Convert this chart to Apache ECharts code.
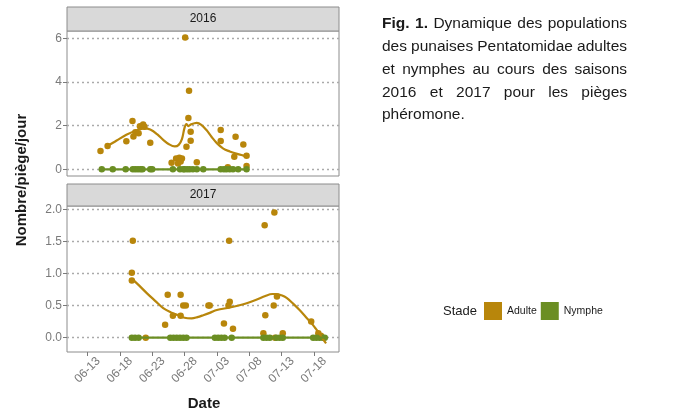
<!DOCTYPE html>
<html>
<head>
<meta charset="utf-8">
<script src="https://cdn.jsdelivr.net/npm/echarts@6/dist/echarts.min.js"></script>
<style>
  html, body { margin: 0; padding: 0; background: #fff; }
  #chart { width: 680px; height: 415px; }
</style>
</head>
<body>
<div id="chart"></div>
<script>
// x values are days after 13 June; y is Nombre/piège/jour
var tickLabels = ['06-13', '06-18', '06-23', '06-28', '07-03', '07-08', '07-13', '07-18'];
var yTicks2016 = [0, 2, 4, 6];
var yTicks2017 = [0, 0.5, 1, 1.5, 2];

var adulte2016 = [
  [2.0, 0.84], [3.1, 1.07], [6.0, 1.29], [6.95, 2.21], [7.1, 1.5], [7.4, 1.7], [7.9, 1.65],
  [8.1, 1.97], [8.6, 2.05], [8.8, 1.95], [9.7, 1.22],
  [13.0, 0.3], [13.7, 0.5], [14.0, 0.27], [14.2, 0.53], [14.6, 0.5], [14.4, 0.36],
  [15.1, 6.04], [15.7, 3.6], [15.6, 2.35], [15.95, 1.72], [15.95, 1.31], [15.3, 1.03], [16.9, 0.32],
  [20.6, 1.8], [20.6, 1.3], [22.9, 1.49], [22.7, 0.58], [24.1, 1.14], [24.6, 0.62], [21.7, 0.09], [24.6, 0.15]
];
var nymphe2016 = [
  [2.2, 0], [3.9, 0], [5.9, 0], [7.0, 0], [7.4, 0], [7.8, 0], [8.2, 0], [8.5, 0], [9.7, 0], [10.0, 0],
  [13.2, 0], [14.3, 0], [14.8, 0], [15.0, 0], [15.4, 0], [15.8, 0], [16.3, 0], [16.9, 0], [17.9, 0],
  [20.6, 0], [21.1, 0], [21.5, 0], [22.0, 0], [22.5, 0], [23.3, 0], [24.6, 0]
];
var adulte2017 = [
  [7.0, 1.51], [6.85, 1.01], [6.85, 0.89], [9.0, 0], [12.0, 0.2], [12.4, 0.67], [13.2, 0.34],
  [14.4, 0.67], [14.4, 0.34], [14.8, 0.5], [15.2, 0.5], [18.7, 0.5], [18.9, 0.5],
  [21.1, 0.22], [21.8, 0.5], [21.9, 1.51], [22.0, 0.56], [22.5, 0.14],
  [27.2, 0.07], [27.4, 1.75], [27.5, 0.35], [28.8, 0.5], [28.9, 1.95], [29.3, 0.64], [29.0, 0],
  [30.2, 0.07], [34.6, 0.25], [35.7, 0.07], [36.1, 0.03]
];
var nymphe2017 = [
  [6.85, 0], [7.35, 0], [7.9, 0], [12.8, 0], [13.3, 0], [13.8, 0], [14.3, 0], [14.8, 0], [15.3, 0],
  [19.7, 0], [20.2, 0], [20.7, 0], [21.2, 0], [22.3, 0],
  [27.2, 0], [27.7, 0], [28.2, 0], [29.2, 0], [29.7, 0], [30.2, 0],
  [34.9, 0], [35.4, 0], [35.9, 0], [36.4, 0], [36.7, 0]
];

// smoothed trends (loess)
var lisseAdulte2016 = [
  [3.0, 1.05], [4.5, 1.32], [6.0, 1.58], [7.5, 1.78], [8.8, 1.88], [9.7, 1.82], [10.8, 1.6],
  [11.7, 1.35], [12.6, 1.15], [13.5, 1.05], [14.1, 1.12], [14.6, 1.38], [15.0, 1.9], [15.3, 2.07],
  [15.6, 1.98], [16.0, 2.06], [16.9, 2.13], [17.6, 2.04], [18.4, 1.8], [19.2, 1.48], [20.0, 1.2],
  [21.0, 0.95], [22.0, 0.82], [23.0, 0.72], [24.0, 0.64], [24.6, 0.6]
];
var lisseNymphe2016 = [[2.2, 0], [24.6, 0]];
var lisseAdulte2017 = [
  [6.85, 0.92], [8.0, 0.81], [9.2, 0.69], [10.5, 0.57], [11.7, 0.46], [13.0, 0.39], [14.0, 0.35],
  [15.0, 0.31], [16.1, 0.3], [17.0, 0.32], [17.9, 0.35], [19.0, 0.39], [20.0, 0.43], [22.0, 0.47],
  [24.1, 0.52], [26.1, 0.59], [27.5, 0.65], [28.6, 0.68], [29.2, 0.68], [30.0, 0.66], [30.8, 0.62],
  [31.8, 0.53], [32.8, 0.43], [33.7, 0.33], [34.6, 0.23], [35.3, 0.14], [35.9, 0.06], [36.4, -0.02],
  [36.9, -0.09]
];
var lisseNymphe2017 = [[6.85, 0], [36.7, 0]];

var captionLines = [
  'Fig. 1. Dynamique des populations',
  'des punaises Pentatomidae adultes',
  'et nymphes au cours des saisons',
  '2016 et 2017 pour les pièges',
  'phéromone.'
];

var FONT = '"Liberation Sans", Arial, sans-serif';
var C_ADULTE = '#B8860B';
var C_NYMPHE = '#6B8E23';
var AXIS_GREY = '#7a7a7a';
var CAP_SIZE = 15.5;

function dayOf(md) {
  var p = md.split('-');
  return (Date.UTC(2017, +p[0] - 1, +p[1]) - Date.UTC(2017, 5, 13)) / 864e5;
}
var tickDays = tickLabels.map(dayOf);

var chart = echarts.init(document.getElementById('chart'), null, { renderer: 'canvas' });

function xAxis(idx, withLabels) {
  return {
    type: 'value', gridIndex: idx, min: -3.18, max: 38.9,
    axisLine: { show: false, onZero: false },
    splitLine: { show: false },
    axisTick: { show: withLabels, customValues: tickDays, length: 4, lineStyle: { color: AXIS_GREY } },
    axisLabel: {
      show: withLabels, customValues: tickDays, rotate: 45, align: 'center', verticalAlign: 'middle',
      margin: 18, fontSize: 12, color: AXIS_GREY, fontFamily: FONT,
      formatter: function (v) { return tickLabels[tickDays.indexOf(v)]; }
    }
  };
}
function yAxis(idx, min, max, ticks, digits) {
  return {
    type: 'value', gridIndex: idx, min: min, max: max,
    axisLine: { show: false, onZero: false },
    axisTick: { show: true, customValues: ticks, length: 4, lineStyle: { color: AXIS_GREY } },
    axisLabel: {
      customValues: ticks, margin: 5, fontSize: 12, color: AXIS_GREY, fontFamily: FONT,
      formatter: function (v) { return v.toFixed(digits); }
    },
    splitLine: { show: true, lineStyle: { color: '#aaaaaa', width: 1.3, type: [2, 3] } }
  };
}
function points(name, data, idx, color) {
  return { name: name, type: 'scatter', xAxisIndex: idx, yAxisIndex: idx, data: data,
    symbolSize: 6.5, itemStyle: { color: color, opacity: 1 }, z: 3 };
}
function trend(name, data, idx, color) {
  return { name: name, type: 'line', xAxisIndex: idx, yAxisIndex: idx, data: data,
    smooth: 0.35, showSymbol: false, symbol: 'none', itemStyle: { color: color, opacity: 1 },
    lineStyle: { color: color, width: 2.2 }, z: 4 };
}

// caption, justified like the original
var ctx = document.createElement('canvas').getContext('2d');
var capX = 382, capW = 245, capY = 24, capStep = 22.8;
var captionEls = [];
captionLines.forEach(function (line, li) {
  var words = line.split(' ');
  var widths = words.map(function (w, wi) {
    var bold = li === 0 && wi < 2;
    ctx.font = (bold ? 'bold ' : '') + CAP_SIZE + 'px ' + FONT;
    return ctx.measureText(w).width;
  });
  var total = widths.reduce(function (a, b) { return a + b; }, 0);
  var last = li === captionLines.length - 1;
  ctx.font = CAP_SIZE + 'px ' + FONT;
  var gap = last || words.length < 2 ? ctx.measureText(' ').width : (capW - total) / (words.length - 1);
  var x = capX;
  words.forEach(function (w, wi) {
    captionEls.push({
      type: 'text', x: x, y: capY + li * capStep,
      style: { text: w, fontSize: CAP_SIZE, fontFamily: FONT, fontWeight: (li === 0 && wi < 2) ? 'bold' : 'normal',
        fill: '#1a1a1a', align: 'left', verticalAlign: 'middle' }
    });
    x += widths[wi] + gap;
  });
});

function strip(top, h, label) {
  return [
    { type: 'rect', shape: { x: 67, y: top, width: 272, height: h },
      style: { fill: '#d9d9d9', stroke: '#8c8c8c', lineWidth: 1 } },
    { type: 'text', x: 203, y: top + h / 2,
      style: { text: label, fontSize: 12, fontFamily: FONT, fill: '#1a1a1a', align: 'center', verticalAlign: 'middle' } }
  ];
}

var option = {
  animation: false,
  backgroundColor: '#ffffff',
  grid: [
    { left: 67, top: 31, width: 272, height: 145, show: true, borderColor: '#8c8c8c', borderWidth: 1, containLabel: false },
    { left: 67, top: 206, width: 272, height: 146, show: true, borderColor: '#8c8c8c', borderWidth: 1, containLabel: false }
  ],
  xAxis: [xAxis(0, false), xAxis(1, true)],
  yAxis: [yAxis(0, -0.307, 6.34, yTicks2016, 0), yAxis(1, -0.223, 2.05, yTicks2017, 1)],
  legend: {
    left: 484, top: 302, padding: 0, itemWidth: 18, itemHeight: 18, itemGap: 4,
    icon: 'rect', selectedMode: false, data: ['Adulte', 'Nymphe'],
    textStyle: { fontSize: 10.5, color: '#1a1a1a', fontFamily: FONT }
  },
  graphic: strip(7, 24, '2016').concat(strip(184, 22, '2017')).concat([
    { type: 'text', x: 22, y: 180, rotation: Math.PI / 2,
      style: { text: 'Nombre/piège/jour', fontSize: 15, fontWeight: 'bold', fontFamily: FONT, fill: '#1a1a1a',
        align: 'center', verticalAlign: 'middle' } },
    { type: 'text', x: 204, y: 404,
      style: { text: 'Date', fontSize: 15, fontWeight: 'bold', fontFamily: FONT, fill: '#1a1a1a',
        align: 'center', verticalAlign: 'middle' } },
    { type: 'text', x: 443, y: 311,
      style: { text: 'Stade', fontSize: 13, fontFamily: FONT, fill: '#1a1a1a', align: 'left', verticalAlign: 'middle' } }
  ]).concat(captionEls),
  series: [
    points('Adulte', adulte2016, 0, C_ADULTE),
    points('Nymphe', nymphe2016, 0, C_NYMPHE),
    trend('Adulte', lisseAdulte2016, 0, C_ADULTE),
    trend('Nymphe', lisseNymphe2016, 0, C_NYMPHE),
    points('Adulte', adulte2017, 1, C_ADULTE),
    points('Nymphe', nymphe2017, 1, C_NYMPHE),
    trend('Adulte', lisseAdulte2017, 1, C_ADULTE),
    trend('Nymphe', lisseNymphe2017, 1, C_NYMPHE)
  ]
};
chart.setOption(option);
</script>
</body>
</html>
